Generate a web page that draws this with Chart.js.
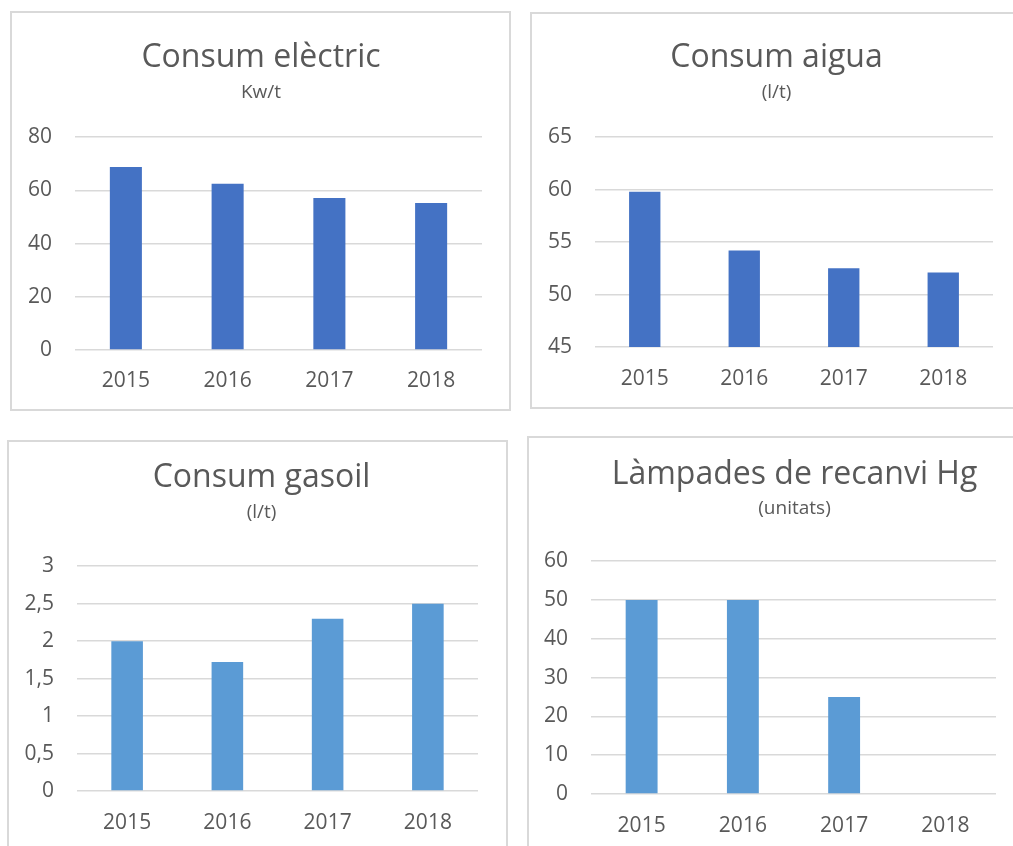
<!DOCTYPE html>
<html>
<head>
<meta charset="utf-8">
<script src="https://cdn.jsdelivr.net/npm/chart.js@4"></script>
<style>
  html, body { margin: 0; padding: 0; background: #fff; }
  body { width: 1013px; height: 846px; position: relative; overflow: hidden; }
  .panel { position: absolute; border: 2px solid #d9d9d9; background: #fff; }
  .panel canvas { display: block; }
</style>
</head>
<body>
<div class="panel" style="left:10px;top:11px;width:497px;height:396px;"><canvas id="c1" width="497" height="396"></canvas></div>
<div class="panel" style="left:530px;top:12px;width:483px;height:393px;"><canvas id="c2" width="483" height="393"></canvas></div>
<div class="panel" style="left:7px;top:440px;width:497px;height:410px;"><canvas id="c3" width="497" height="410"></canvas></div>
<div class="panel" style="left:527px;top:436px;width:486px;height:414px;"><canvas id="c4" width="486" height="414"></canvas></div>
<script>
const years = ['2015', '2016', '2017', '2018'];
const electric = [68.8, 62.5, 57.1, 55.3];
const water = [59.8, 54.2, 52.5, 52.1];
const gasoil = [2.0, 1.72, 2.3, 2.5];
const lamps = [50, 50, 25, 0];

const FONT = "'Open Sans', 'Noto Sans', sans-serif";
const TEXT = '#595959';
Chart.defaults.font.family = FONT;
Chart.defaults.color = TEXT;
Chart.defaults.animation = false;

// nudge title + subtitle sideways so they sit where the original centred them
const shiftTitles = {
  id: 'shiftTitles',
  afterLayout(chart, args, opts) {
    const dx = opts.dx || 0;
    chart.boxes.forEach(b => {
      if (b.options && b.options.text !== undefined && b.position === 'top') {
        b.left += dx;
        b.right += dx;
      }
    });
  }
};

function makeChart(id, o) {
  new Chart(document.getElementById(id), {
    type: 'bar',
    data: {
      labels: years,
      datasets: [{ data: o.data, backgroundColor: o.color, borderWidth: 0,
                   categoryPercentage: 1, barPercentage: 0.315 }]
    },
    plugins: [shiftTitles],
    options: {
      responsive: false,
      layout: { padding: { left: 0, right: o.right, top: 0, bottom: 0 } },
      plugins: {
        shiftTitles: { dx: o.dx },
        legend: { display: false },
        tooltip: { enabled: false },
        title: {
          display: true, text: o.title, color: TEXT,
          font: { size: 32, weight: 'normal' },
          padding: { top: o.titleTop, bottom: 0 }
        },
        subtitle: {
          display: true, text: o.sub, color: TEXT,
          font: { size: 19, weight: 'normal' },
          padding: { top: o.subTop, bottom: o.subBottom }
        }
      },
      scales: {
        x: {
          afterFit: s => { s.height = o.xHeight; },
          grid: { display: false, drawTicks: false },
          border: { display: false },
          ticks: { padding: o.xPad, color: TEXT, font: { size: 21 } }
        },
        y: {
          min: o.min, max: o.max,
          afterFit: s => { s.width = o.left; },
          grid: { color: '#d9d9d9', lineWidth: 1.5, drawTicks: false },
          border: { display: false },
          ticks: {
            stepSize: o.step, padding: 23, color: TEXT, font: { size: 21 },
            callback: v => String(v).replace('.', ',')
          }
        }
      }
    }
  });
}

makeChart('c1', { data: electric, color: '#4472c4', title: 'Consum elèctric', sub: 'Kw/t',
  min: 0, max: 80, step: 20, left: 63, right: 27, xHeight: 59, dx: 14,
  titleTop: 26, subTop: 4, subBottom: 33, xPad: 18 });
makeChart('c2', { data: water, color: '#4472c4', title: 'Consum aigua', sub: '(l/t)',
  min: 45, max: 65, step: 5, left: 63, right: 22, xHeight: 60, dx: 14,
  titleTop: 25, subTop: 4, subBottom: 33, xPad: 19 });
makeChart('c3', { data: gasoil, color: '#5b9bd5', title: 'Consum gasoil', sub: '(l/t)',
  min: 0, max: 3, step: 0.5, left: 68, right: 28, xHeight: 61, dx: 18,
  titleTop: 17, subTop: 4, subBottom: 42, xPad: 19 });
makeChart('c4', { data: lamps, color: '#5b9bd5', title: 'Làmpades de recanvi Hg', sub: '(unitats)',
  min: 0, max: 60, step: 10, left: 62, right: 19, xHeight: 58, dx: 32,
  titleTop: 18, subTop: 3, subBottom: 41, xPad: 19 });
</script>
</body>
</html>
